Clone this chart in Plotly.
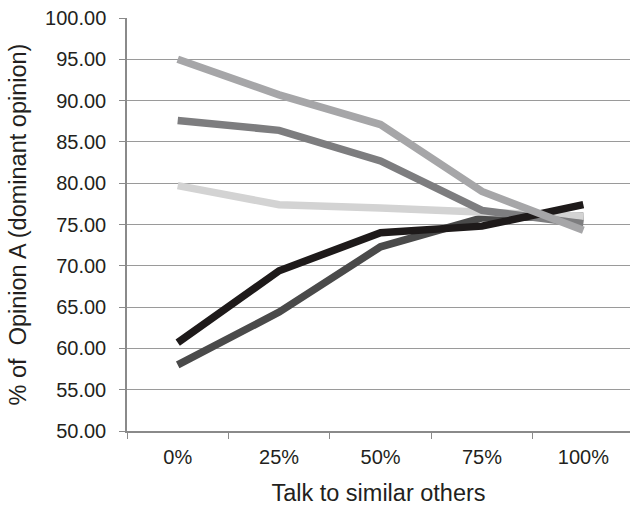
import plotly.graph_objects as go

categories = ["0%", "25%", "50%", "75%", "100%"]
series_a = [95.0, 90.7, 87.1, 79.0, 74.3]   # light gray, top
series_b = [87.6, 86.4, 82.7, 76.7, 75.1]   # mid gray
series_c = [79.7, 77.4, 77.0, 76.6, 76.0]   # very light gray
series_d = [60.7, 69.4, 74.0, 74.8, 77.4]   # black
series_e = [58.0, 64.4, 72.3, 75.8, 76.0]   # dark gray

y_ticks = [50, 55, 60, 65, 70, 75, 80, 85, 90, 95, 100]

traces = [
    (series_e, "#4a4a4a"),
    (series_c, "#d3d3d3"),
    (series_b, "#7d7d7f"),
    (series_d, "#1e1a1a"),
    (series_a, "#a6a6a8"),
]

fig = go.Figure()
for vals, col in traces:
    fig.add_trace(go.Scatter(
        x=categories, y=vals, mode="lines",
        line=dict(color=col, width=7.5),
        showlegend=False, hoverinfo="skip",
    ))

font = "Liberation Sans, Arial, sans-serif"
fig.update_layout(
    width=630, height=506,
    margin=dict(l=127, r=0, t=18, b=75),
    paper_bgcolor="white", plot_bgcolor="white",
    font=dict(family=font, size=20, color="#231f20"),
    xaxis=dict(
        type="category", range=[-0.5, 4.46],
        tickson="boundaries", ticks="outside", ticklen=6, tickcolor="#8a8a8a",
        showline=True, linecolor="#8a8a8a", linewidth=1.5,
        showgrid=False, zeroline=False,
        title=dict(text="Talk to similar others", font=dict(size=23.5), standoff=18),
        tickfont=dict(size=20),
        ticklabelstandoff=7,
    ),
    yaxis=dict(
        range=[50, 100], tickvals=y_ticks, tickformat=".2f",
        ticks="outside", ticklen=6, tickcolor="#8a8a8a",
        showline=True, linecolor="#8a8a8a", linewidth=1.5,
        showgrid=True, gridcolor="#9a9a9a", gridwidth=1.3,
        zeroline=False,
        title=dict(text="% of\u00a0 Opinion A (dominant opinion)", font=dict(size=23.5), standoff=12),
        tickfont=dict(size=20),
        ticklabelstandoff=9,
    ),
)

fig.write_html("out.html", config={"displayModeBar": False},
               post_script="document.body.style.margin='0';")
